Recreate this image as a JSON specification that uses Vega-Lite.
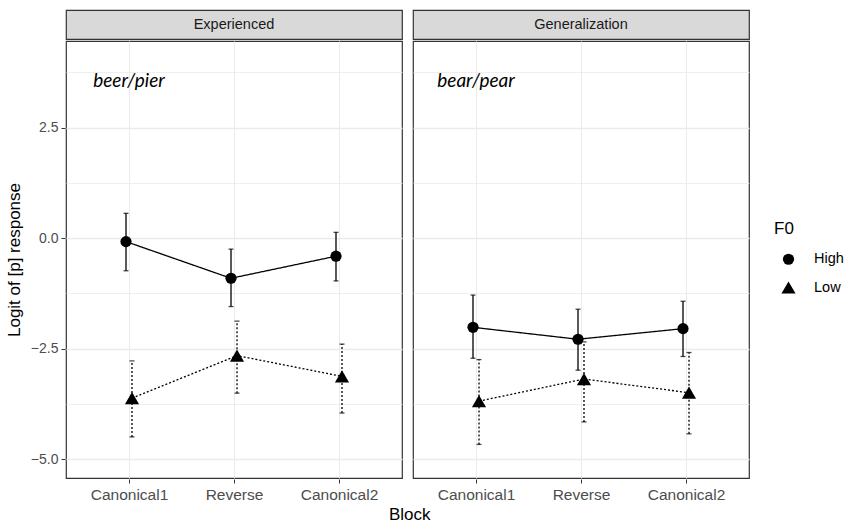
{
  "$schema": "https://vega.github.io/schema/vega-lite/v6.json",
  "background": "white",
  "padding": {"left": 5, "top": 9, "right": 90, "bottom": 5},
  "title": {"text": "Block", "orient": "bottom", "anchor": "middle", "fontSize": 17, "fontWeight": "normal", "color": "#000000", "font": "Liberation Sans", "offset": 4, "dx": -15},
  "datasets": {
    "strips": [
      {"Condition": "Experienced"},
      {"Condition": "Generalization"}
    ],
    "main": [
      {"Condition": "Experienced", "Block": "Canonical1", "F0": "High", "mean": -0.08, "lo": -0.74, "hi": 0.56},
      {"Condition": "Experienced", "Block": "Reverse", "F0": "High", "mean": -0.91, "lo": -1.55, "hi": -0.25},
      {"Condition": "Experienced", "Block": "Canonical2", "F0": "High", "mean": -0.41, "lo": -0.97, "hi": 0.13},
      {"Condition": "Experienced", "Block": "Canonical1", "F0": "Low", "mean": -3.62, "lo": -4.5, "hi": -2.78},
      {"Condition": "Experienced", "Block": "Reverse", "F0": "Low", "mean": -2.66, "lo": -3.51, "hi": -1.88},
      {"Condition": "Experienced", "Block": "Canonical2", "F0": "Low", "mean": -3.13, "lo": -3.96, "hi": -2.4},
      {"Condition": "Generalization", "Block": "Canonical1", "F0": "High", "mean": -2.02, "lo": -2.72, "hi": -1.29},
      {"Condition": "Generalization", "Block": "Reverse", "F0": "High", "mean": -2.29, "lo": -2.99, "hi": -1.61},
      {"Condition": "Generalization", "Block": "Canonical2", "F0": "High", "mean": -2.05, "lo": -2.68, "hi": -1.43},
      {"Condition": "Generalization", "Block": "Canonical1", "F0": "Low", "mean": -3.69, "lo": -4.67, "hi": -2.75},
      {"Condition": "Generalization", "Block": "Reverse", "F0": "Low", "mean": -3.19, "lo": -4.16, "hi": -2.35},
      {"Condition": "Generalization", "Block": "Canonical2", "F0": "Low", "mean": -3.5, "lo": -4.43, "hi": -2.59},
      {"Condition": "Experienced", "Block": "Canonical1", "note": "beer/pier", "noteY": 3.55},
      {"Condition": "Generalization", "Block": "Canonical1", "note": "bear/pear", "noteY": 3.55}
    ]
  },
  "spacing": 0,
  "vconcat": [
    {
      "data": {"name": "strips"},
      "facet": {"column": {"field": "Condition", "type": "nominal", "header": null, "sort": ["Experienced", "Generalization"]}},
      "spacing": 9,
      "spec": {
        "width": 336,
        "height": 29,
        "view": {"fill": "#d9d9d9", "stroke": "#333333", "strokeWidth": 1.2},
        "mark": {"type": "text", "font": "Liberation Sans", "fontSize": 14.5, "color": "#1a1a1a"},
        "encoding": {"text": {"field": "Condition", "type": "nominal"}}
      }
    },
    {
      "data": {"name": "main"},
      "facet": {"column": {"field": "Condition", "type": "nominal", "header": null, "sort": ["Experienced", "Generalization"]}},
      "spacing": 9,
      "spec": {
        "width": 336,
        "height": 437,
        "view": {"fill": "white", "stroke": "#333333", "strokeWidth": 1.2},
        "encoding": {
          "x": {
            "field": "Block", "type": "nominal", "sort": ["Canonical1", "Reverse", "Canonical2"],
            "scale": {"type": "point", "padding": 0.6},
            "title": null,
            "axis": {"labelAngle": 0, "domain": false, "grid": true, "gridColor": "#ebebeb", "gridWidth": 1, "tickColor": "#333333", "tickSize": 4, "labelColor": "#4d4d4d", "labelFontSize": 15.5, "labelPadding": 4}
          }
        },
        "layer": [
          {
            "transform": [{"filter": "isValid(datum.mean)"}],
            "mark": {"type": "rule", "color": "black", "strokeWidth": 1.3},
            "encoding": {
              "xOffset": {"field": "F0", "type": "nominal", "scale": {"type": "point", "padding": 0, "range": [-3, 3]}},
              "y": {
                "field": "lo", "type": "quantitative",
                "scale": {"domain": [-5.43, 4.46], "nice": false, "zero": false},
                "title": "Logit of [p] response",
                "axis": {
                  "values": [-5, -3.75, -2.5, -1.25, 0, 1.25, 2.5, 3.75],
                  "labelExpr": "datum.value % 2.5 === 0 ? format(datum.value, '.1f') : ''",
                  "domain": false,
                  "gridColor": "#ebebeb",
                  "gridWidth": {"condition": {"test": "datum.value % 2.5 === 0", "value": 1.3}, "value": 0.8},
                  "tickOpacity": {"condition": {"test": "datum.value % 2.5 === 0", "value": 1}, "value": 0},
                  "tickColor": "#333333", "tickSize": 4,
                  "labelColor": "#4d4d4d", "labelFontSize": 14, "labelPadding": 3,
                  "titleFontSize": 17, "titleColor": "#000000", "titleFontWeight": "normal", "titlePadding": 7
                }
              },
              "y2": {"field": "hi"},
              "strokeDash": {"field": "F0", "type": "nominal", "scale": {"domain": ["High", "Low"], "range": [[1, 0], [2, 2]]}}
            }
          },
          {
            "transform": [{"filter": "isValid(datum.mean)"}],
            "mark": {"type": "tick", "color": "black", "size": 5, "thickness": 1.3, "orient": "horizontal"},
            "encoding": {
              "xOffset": {"field": "F0", "type": "nominal", "scale": {"type": "point", "padding": 0, "range": [-3, 3]}},
              "y": {"field": "hi", "type": "quantitative"},
              "strokeDash": {"field": "F0", "type": "nominal"}
            }
          },
          {
            "transform": [{"filter": "isValid(datum.mean)"}],
            "mark": {"type": "tick", "color": "black", "size": 5, "thickness": 1.3, "orient": "horizontal"},
            "encoding": {
              "xOffset": {"field": "F0", "type": "nominal", "scale": {"type": "point", "padding": 0, "range": [-3, 3]}},
              "y": {"field": "lo", "type": "quantitative"},
              "strokeDash": {"field": "F0", "type": "nominal"}
            }
          },
          {
            "transform": [{"filter": "isValid(datum.mean)"}],
            "mark": {"type": "line", "color": "black", "strokeWidth": 1.3},
            "encoding": {
              "xOffset": {"field": "F0", "type": "nominal", "scale": {"type": "point", "padding": 0, "range": [-3, 3]}},
              "y": {"field": "mean", "type": "quantitative"},
              "detail": {"field": "F0", "type": "nominal"},
              "strokeDash": {"field": "F0", "type": "nominal"}
            }
          },
          {
            "transform": [{"filter": "isValid(datum.mean)"}],
            "mark": {"type": "point", "filled": true, "color": "black", "opacity": 1},
            "encoding": {
              "xOffset": {"field": "F0", "type": "nominal", "scale": {"type": "point", "padding": 0, "range": [-3, 3]}},
              "y": {"field": "mean", "type": "quantitative"},
              "size": {"field": "F0", "type": "nominal", "scale": {"domain": ["High", "Low"], "range": [125, 200]}},
              "shape": {
                "field": "F0", "type": "nominal",
                "scale": {"domain": ["High", "Low"], "range": ["circle", "triangle-up"]},
                "legend": {
                  "title": "F0", "orient": "none", "legendX": 708, "legendY": 211,
                  "titleFontSize": 17, "titleFontWeight": "normal", "titleColor": "#000000", "titleFont": "Liberation Sans", "titlePadding": 14,
                  "labelFontSize": 14.5, "labelColor": "#000000", "labelFont": "Liberation Sans", "labelOffset": 18, "symbolOffset": 7,
                  "symbolFillColor": "black", "symbolStrokeColor": "black", "symbolStrokeWidth": 0, "rowPadding": 13
                }
              }
            }
          },
          {
            "transform": [{"filter": "isValid(datum.note)"}],
            "mark": {"type": "text", "font": "Lato", "fontStyle": "italic", "fontSize": 19, "color": "#000000"},
            "encoding": {
              "y": {"field": "noteY", "type": "quantitative"},
              "text": {"field": "note", "type": "nominal"}
            }
          }
        ]
      }
    }
  ],
  "config": {
    "font": "Liberation Sans",
    "axis": {"labelFont": "Liberation Sans", "titleFont": "Liberation Sans"}
  }
}
